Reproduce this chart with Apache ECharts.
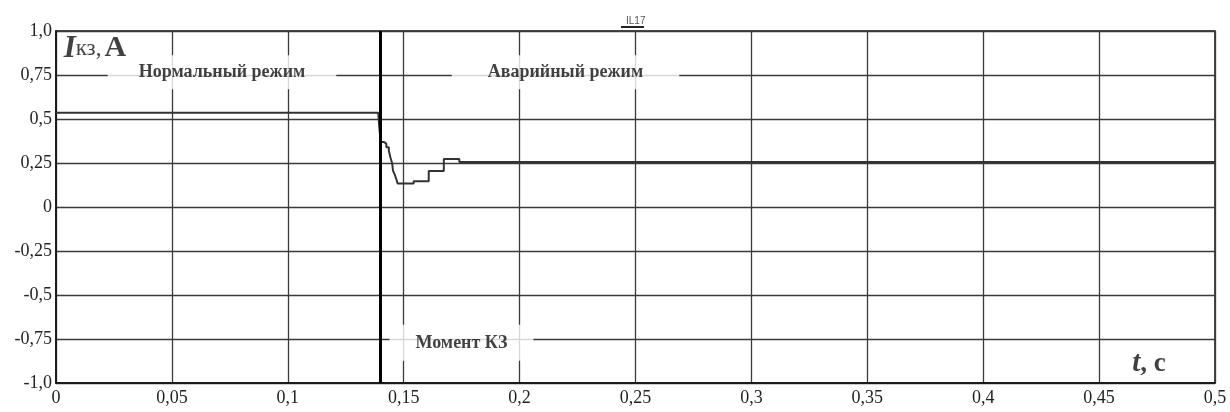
<!DOCTYPE html>
<html><head><meta charset="utf-8">
<script src="https://cdn.jsdelivr.net/npm/echarts@6/dist/echarts.min.js"></script>
<style>html,body{margin:0;padding:0;background:#fff}#c{width:1230px;height:412px}</style>
</head><body><div id="c"></div>
<script>
// ---- data ----
const times  = [0, 0.1390, 0.1392, 0.1395, 0.1398, 0.1403, 0.1414, 0.1425, 0.1436, 0.1443, 0.1450, 0.1454, 0.1461, 0.1469, 0.1474, 0.1543, 0.1608, 0.1673, 0.1740, 0.5];
const values = [0.536, 0.536, 0.50, 0.45, 0.41, 0.37, 0.36, 0.34, 0.32, 0.28, 0.25, 0.205, 0.185, 0.155, 0.133, 0.147, 0.205, 0.273, 0.255, 0.255];
const faultTime = 0.139;
const xTickLabels = ['0','0,05','0,1','0,15','0,2','0,25','0,3','0,35','0,4','0,45','0,5'];
const yTickLabels = ['-1,0','-0,75','-0,5','-0,25','0','0,25','0,5','0,75','1,0'];
const seriesName = 'IL17';
const notes = [
  {text: 'Нормальный режим', t: 0.0716, v: 0.765, pad: [8, 31]},
  {text: 'Аварийный режим', t: 0.2198, v: 0.765, pad: [8, 36]},
  {text: 'Момент КЗ', t: 0.1749, v: -0.772, pad: [9, 26]}
];

const serif = '"Liberation Serif", "DejaVu Serif", serif';
const chart = echarts.init(document.getElementById('c'));
const linePts = times.map((t, i) => [t, values[i]]);

const noteData = notes.map(n => ({
  value: [n.t, n.v],
  label: {
    show: true, position: 'inside', formatter: n.text,
    fontFamily: serif, fontWeight: 'bold', fontSize: 18, color: '#111',
    backgroundColor: '#fff', padding: n.pad
  }
}));
noteData.push({
  value: [0.0033, 0.9],
  label: {
    show: true, position: 'right', distance: 0,
    formatter: '{i|I}{r|кз,}{b|А}',
    rich: {
      i: {fontFamily: serif, fontStyle: 'italic', fontWeight: 'bold', fontSize: 31, color: '#111'},
      r: {fontFamily: serif, fontSize: 23, color: '#111', padding: [0, 3, 0, 0]},
      b: {fontFamily: serif, fontWeight: 'bold', fontSize: 30, color: '#111'}
    }
  }
});
noteData.push({
  value: [0.4715, -0.89],
  label: {
    show: true, position: 'inside',
    formatter: '{i|t}{b|, c}',
    rich: {
      i: {fontFamily: serif, fontStyle: 'italic', fontWeight: 'bold', fontSize: 29, color: '#111'},
      b: {fontFamily: serif, fontWeight: 'bold', fontSize: 27, color: '#111'}
    }
  }
});

chart.setOption({
  animation: false,
  backgroundColor: '#fff',
  title: {
    text: seriesName, left: 621, top: 11,
    textStyle: {fontFamily: 'Arial, "Liberation Sans", sans-serif', fontSize: 10, fontWeight: 'normal', color: '#555'}
  },
  graphic: [{type: 'rect', left: 621, top: 26, shape: {width: 23, height: 2}, style: {fill: '#222'}}],
  grid: {left: 56, right: 15, top: 31, bottom: 29, show: true, borderColor: '#111', borderWidth: 1.5, backgroundColor: 'transparent'},
  xAxis: {
    type: 'value', min: 0, max: 0.5, interval: 0.05,
    axisLine: {show: true, onZero: false, lineStyle: {color: '#111', width: 1.5}},
    axisTick: {show: false},
    splitLine: {show: true, lineStyle: {color: '#3a3a3a', width: 1.3}},
    axisLabel: {
      margin: 6, fontFamily: serif, fontSize: 18, color: '#222',
      formatter: v => xTickLabels[Math.round(v / 0.05)]
    }
  },
  yAxis: {
    type: 'value', min: -1, max: 1, interval: 0.25,
    axisLine: {show: true, onZero: false, lineStyle: {color: '#111', width: 1.5}},
    axisTick: {show: false},
    splitLine: {show: true, lineStyle: {color: '#3a3a3a', width: 1.3}},
    axisLabel: {
      margin: 4, fontFamily: serif, fontSize: 18, color: '#222',
      formatter: v => yTickLabels[Math.round((v + 1) / 0.25)]
    }
  },
  series: [
    {
      name: seriesName, type: 'line', data: linePts, step: 'end',
      showSymbol: false, symbol: 'none',
      lineStyle: {color: '#333', width: 2},
      markLine: {
        silent: true, symbol: 'none', label: {show: false},
        lineStyle: {color: '#000', width: 3, type: 'solid'},
        data: [{xAxis: faultTime}]
      },
      z: 3
    },
    {
      type: 'scatter', data: noteData, symbolSize: 0, silent: true, z: 5
    }
  ]
});
</script></body></html>
